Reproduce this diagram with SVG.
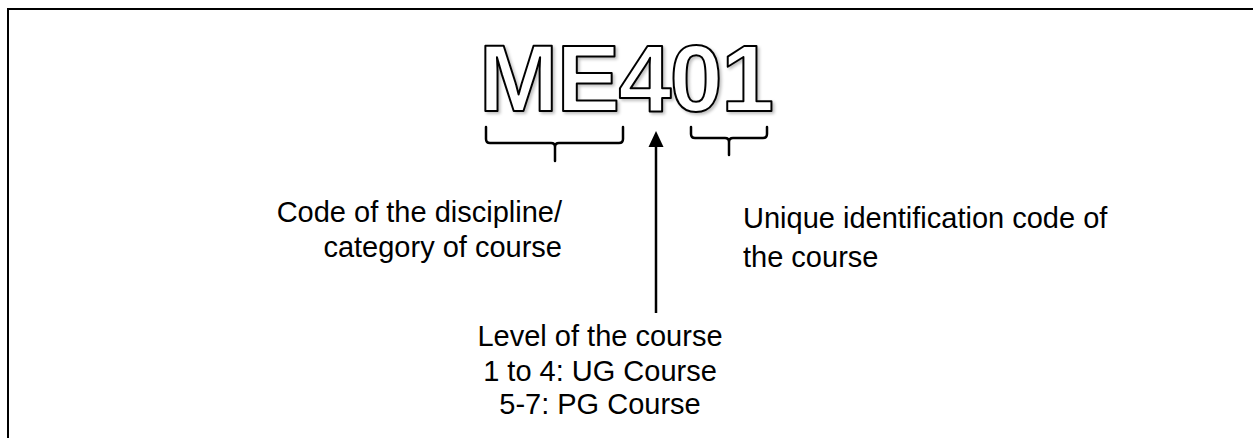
<svg xmlns="http://www.w3.org/2000/svg" width="1253" height="438" viewBox="0 0 1253 438">
<style>
.lbl{font-family:"Liberation Sans",Arial,sans-serif;font-size:29px;fill:#000}
.br{fill:none;stroke:#000;stroke-width:2.5;stroke-linejoin:round;stroke-linecap:round}
</style>
<defs>
<filter id="sh" x="-10%" y="-10%" width="120%" height="130%">
<feGaussianBlur in="SourceAlpha" stdDeviation="1.5"/>
<feOffset dx="1.5" dy="2" result="b"/>
<feFlood flood-color="#000" flood-opacity="0.25"/>
<feComposite in2="b" operator="in"/>
<feMerge><feMergeNode/><feMergeNode in="SourceGraphic"/></feMerge>
</filter>
</defs>
<g id="frame">
<path d="M8,438 L8,9 L1253,9" fill="none" stroke="#000" stroke-width="2"/>
</g>
<g id="code">
<text x="479" y="111" filter="url(#sh)" letter-spacing="-1.5" style="font-family:'Liberation Sans',Arial,sans-serif;font-weight:bold;font-size:95px;fill:#fff;stroke:#000;stroke-width:2;stroke-linejoin:round">ME401</text>
</g>
<g id="connectors">
<path class="br" d="M486,127 L486,139 Q486,143 490,143 L551,143 Q555,143 555,147 L555,161 M555,147 Q555,143 559,143 L619,143 Q623,143 623,139 L623,127"/>
<path class="br" d="M691,127 L691,134 Q691,138 695,138 L725,138 Q729,138 729,142 L729,155 M729,142 Q729,138 733,138 L763,138 Q767,138 767,134 L767,127"/>
<line x1="656" y1="313" x2="656" y2="146" stroke="#000" stroke-width="2.5"/>
<path d="M656,131 L663.5,147 L648.5,147 Z" fill="#000"/>
</g>
<g id="discipline">
<text class="lbl" x="562" y="222" text-anchor="end">Code of the discipline/</text>
<text class="lbl" x="562" y="257" text-anchor="end">category of course</text>
</g>
<g id="unique">
<text class="lbl" x="743" y="228">Unique identification code of</text>
<text class="lbl" x="743" y="267">the course</text>
</g>
<g id="level">
<text class="lbl" x="600" y="346" text-anchor="middle">Level of the course</text>
<text class="lbl" x="600" y="381" text-anchor="middle">1 to 4: UG Course</text>
<text class="lbl" x="600" y="414" text-anchor="middle">5-7: PG Course</text>
</g>
</svg>
